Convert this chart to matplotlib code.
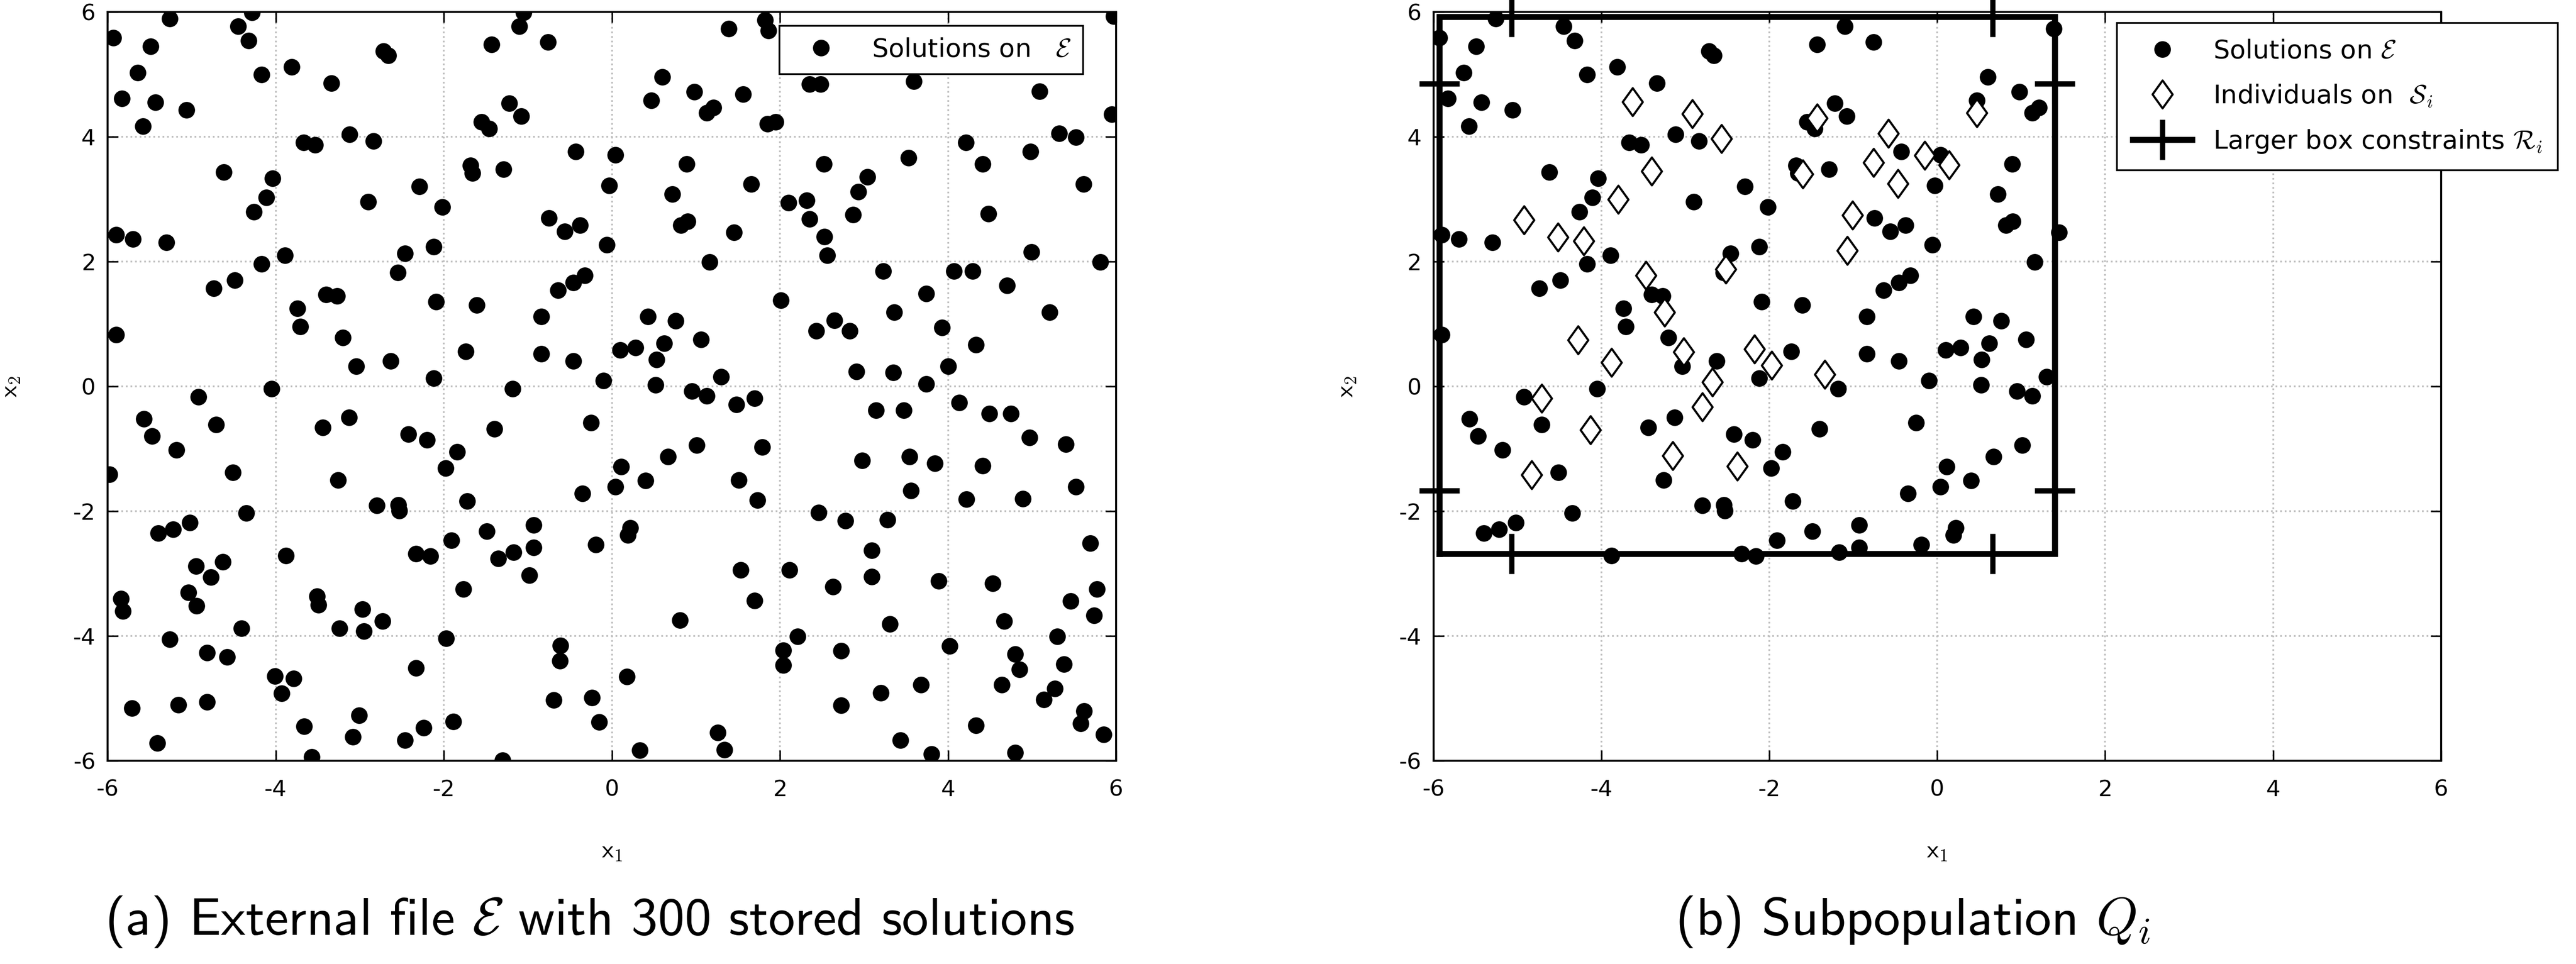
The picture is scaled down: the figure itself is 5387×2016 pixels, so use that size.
import numpy as np
import matplotlib
matplotlib.use("Agg")
import matplotlib.pyplot as plt
from matplotlib.lines import Line2D
from matplotlib.path import Path

plt.rcParams['font.family'] = ['DejaVu Sans']
plt.rcParams['mathtext.fontset'] = 'cm'
plt.rcParams['axes.unicode_minus'] = False

# --- solutions stored in the external file E (x1, x2) ---
sol_x1 = np.array([
    -5.26, -4.28, -5.93, -5.49, -4.45, -4.32, -1.05, -1.10, -1.43, -0.76,
    1.39, 1.82, 5.97, 2.35, 2.48, 3.59, 5.09, -5.64, -5.83, -5.43,
    -5.06, -5.58, -4.17, -3.81, -3.34, -1.22, -1.08, 0.60, 0.98, 0.47,
    1.56, 1.13, 1.21, 1.85, 1.95, -1.55, -1.46, 5.95, 5.32, 5.52,
    -3.12, -2.84, -3.67, -3.53, 4.21, 0.04, -0.43, 3.53, 2.52, 4.41,
    4.98, 0.89, -1.68, -1.66, -1.29, -4.62, -4.04, 5.61, 3.04, 1.66,
    -2.29, -0.03, 0.72, -4.11, 2.32, 2.93, -2.90, -4.26, -2.02, 2.10,
    4.48, -0.75, 2.35, -0.56, -0.38, 2.87, 0.82, 0.90, 1.45, 2.53,
    -5.90, -5.70, -5.30, -0.06, 4.99, 2.56, -3.89, -4.17, -2.46, -2.12,
    1.16, 5.81, 3.23, 4.07, 4.29, -2.55, -4.49, -4.74, 4.70, 3.74,
    -0.64, -0.46, -0.32, -3.40, -3.27, -2.09, -1.61, 2.01, 5.21, 3.36,
    -3.74, -0.84, 0.43, -3.71, 0.76, 2.43, 2.65, 2.83, 3.93, -5.90,
    -3.20, 1.06, 0.62, 4.33, -1.74, -0.84, 0.10, 0.28, -0.46, -2.63,
    0.53, -3.04, 4.00, 2.91, 3.35, 1.30, -2.12, -0.10, 0.52, 3.74,
    -4.05, -1.18, -4.92, 0.95, 1.13, 1.70, 4.13, 1.48, 3.14, 3.47,
    4.49, 4.75, -5.57, -4.71, -3.13, -0.25, -3.44, -1.40, -5.47, -2.42,
    -2.20, 4.97, 5.40, 1.01, -5.18, 1.79, -1.84, 3.54, 0.67, 2.98,
    3.84, -1.98, 4.41, -4.51, -5.98, 0.11, -3.26, 0.40, 1.51, 5.52,
    0.04, 3.56, -0.35, -1.72, 1.73, 4.22, 4.89, -4.35, 2.46, -2.80,
    -2.54, -2.53, -5.40, -5.22, -5.02, 2.78, 3.28, -1.91, -1.49, -0.93,
    0.22, 0.19, -2.16, -2.33, -0.19, 3.09, -1.35, -1.17, -0.93, 5.69,
    -4.95, -4.63, -0.98, 2.11, 1.53, 3.09, -4.77, -3.88, -5.04, -4.94,
    3.89, 4.53, -5.84, -5.82, -3.51, -3.49, -2.97, -2.73, -1.77, 1.70,
    5.77, 2.63, 5.46, 5.74, -2.95, -3.24, -4.41, 0.81, 4.67, 3.31,
    -1.97, 5.30, -5.26, -4.82, -4.58, -0.61, -0.62, 4.02, 2.21, 2.04,
    2.04, -4.01, -3.79, -3.93, -2.33, 0.18, 2.73, 4.80, 4.85, 5.38,
    4.64, 3.68, -5.71, -5.16, -4.82, -0.69, -0.24, 3.20, 5.27, 5.14,
    5.62, 5.58, -3.01, -1.89, -0.15, 2.73, 5.85, -2.24, -2.46, -3.66,
    -3.08, -5.41, 4.33, 1.26, 1.34, 3.43, 0.33, -3.57, -1.30, 3.80,
    4.80, -2.72, -2.66, 1.86,
])
sol_x2 = np.array([
    5.89, 5.99, 5.59, 5.45, 5.77, 5.54, 5.99, 5.77, 5.48, 5.52,
    5.73, 5.87, 5.93, 4.84, 4.84, 4.89, 4.73, 5.03, 4.61, 4.55,
    4.43, 4.17, 5.00, 5.12, 4.86, 4.54, 4.33, 4.96, 4.72, 4.58,
    4.68, 4.38, 4.47, 4.21, 4.24, 4.24, 4.13, 4.36, 4.05, 3.99,
    4.04, 3.93, 3.91, 3.87, 3.91, 3.71, 3.76, 3.66, 3.56, 3.56,
    3.76, 3.56, 3.54, 3.42, 3.48, 3.43, 3.33, 3.24, 3.36, 3.24,
    3.20, 3.22, 3.08, 3.03, 2.98, 3.12, 2.96, 2.80, 2.87, 2.94,
    2.77, 2.70, 2.68, 2.48, 2.58, 2.75, 2.58, 2.64, 2.47, 2.40,
    2.43, 2.36, 2.31, 2.27, 2.15, 2.10, 2.10, 1.96, 2.13, 2.24,
    1.99, 1.99, 1.85, 1.85, 1.85, 1.82, 1.70, 1.57, 1.62, 1.49,
    1.54, 1.66, 1.78, 1.47, 1.45, 1.36, 1.30, 1.38, 1.19, 1.19,
    1.25, 1.12, 1.12, 0.96, 1.05, 0.89, 1.06, 0.89, 0.94, 0.83,
    0.78, 0.75, 0.69, 0.67, 0.56, 0.52, 0.58, 0.62, 0.41, 0.41,
    0.43, 0.32, 0.32, 0.24, 0.22, 0.15, 0.13, 0.09, 0.02, 0.04,
    -0.04, -0.04, -0.17, -0.08, -0.15, -0.19, -0.26, -0.29, -0.38, -0.38,
    -0.44, -0.44, -0.52, -0.61, -0.50, -0.58, -0.66, -0.68, -0.80, -0.77,
    -0.86, -0.82, -0.93, -0.94, -1.02, -0.97, -1.05, -1.13, -1.13, -1.19,
    -1.23, -1.31, -1.27, -1.38, -1.41, -1.29, -1.50, -1.51, -1.50, -1.61,
    -1.61, -1.67, -1.72, -1.84, -1.82, -1.81, -1.80, -2.03, -2.02, -1.91,
    -1.90, -1.99, -2.35, -2.29, -2.18, -2.15, -2.14, -2.47, -2.32, -2.22,
    -2.27, -2.38, -2.72, -2.68, -2.54, -2.63, -2.76, -2.66, -2.58, -2.51,
    -2.88, -2.81, -3.03, -2.94, -2.94, -3.05, -3.06, -2.71, -3.30, -3.52,
    -3.12, -3.16, -3.40, -3.60, -3.36, -3.50, -3.57, -3.76, -3.25, -3.43,
    -3.25, -3.21, -3.44, -3.67, -3.92, -3.88, -3.88, -3.75, -3.76, -3.81,
    -4.04, -4.01, -4.05, -4.27, -4.34, -4.15, -4.40, -4.16, -4.01, -4.23,
    -4.47, -4.64, -4.68, -4.92, -4.51, -4.65, -4.24, -4.29, -4.54, -4.45,
    -4.78, -4.78, -5.16, -5.10, -5.06, -5.03, -4.99, -4.91, -4.84, -5.02,
    -5.20, -5.40, -5.27, -5.37, -5.38, -5.11, -5.58, -5.47, -5.67, -5.45,
    -5.62, -5.72, -5.43, -5.55, -5.82, -5.67, -5.83, -5.94, -5.99, -5.89,
    -5.87, 5.37, 5.30, 5.70,
])

# --- individuals of the subpopulation on S_i ---
ind_x1 = [-3.63, -2.92, -2.57, -3.40, -3.80, -4.92, -4.52, -4.21, -3.47, -3.25,
          -4.28, -3.88, -3.02, -2.68, -2.80, -2.18, -1.97, -1.34, -4.71, -4.13,
          -3.15, -2.38, -4.83, -2.52, -1.60, -1.43, -0.76, -0.58, -0.47, -0.15,
          0.14, -1.01, -1.07, 0.47]
ind_x2 = [4.56, 4.37, 3.97, 3.45, 3.00, 2.67, 2.39, 2.33, 1.78, 1.19,
          0.74, 0.38, 0.55, 0.07, -0.33, 0.60, 0.34, 0.19, -0.19, -0.70,
          -1.11, -1.28, -1.42, 1.88, 3.40, 4.30, 3.59, 4.05, 3.25, 3.70,
          3.55, 2.74, 2.18, 4.38]

# --- larger box constraints R_i ---
box_x1 = (-5.93, 1.40)
box_x2 = (-2.68, 5.92)
cross_x1 = [-5.07, 0.66]   # crosses on top / bottom edge
cross_x2 = [-1.67, 4.85]   # crosses on left / right edge

ticks = [-6, -4, -2, 0, 2, 4, 6]

diamond = Path([(0, 1), (0.72, 0), (0, -1), (-0.72, 0), (0, 1)],
               [Path.MOVETO, Path.LINETO, Path.LINETO, Path.LINETO, Path.CLOSEPOLY])

DOT = dict(ls='none', marker='o', ms=11.5, color='black')
BOX = dict(color='black', lw=4.5)


def style_axes(ax):
    ax.set_xlim(-6, 6)
    ax.set_ylim(-6, 6)
    ax.set_xticks(ticks)
    ax.set_yticks(ticks)
    ax.tick_params(direction='in', length=8, width=1.2, top=True, right=True,
                   labelsize=17)
    ax.tick_params(axis='x', pad=14)
    ax.tick_params(axis='y', pad=9)
    ax.grid(True, ls=':', color='#bdbdbd', lw=1.3)
    ax.set_axisbelow(True)
    for s in ax.spines.values():
        s.set_linewidth(1.5)
    ax.set_xlabel(r'$\mathsf{x}_{\mathsf{1}}$', fontsize=19)
    ax.set_ylabel(r'$\mathsf{x}_{\mathsf{2}}$', fontsize=19)


fig = plt.figure(figsize=(26.935, 10.08), dpi=200)
ax_a = fig.add_axes([0.0418, 0.2108, 0.3915, 0.7768])
ax_b = fig.add_axes([0.5565, 0.2108, 0.3911, 0.7768])

# (a) external file
style_axes(ax_a)
ax_a.plot(sol_x1, sol_x2, label=r'Solutions on   $\mathcal{E}$', **DOT)
ax_a.xaxis.set_label_coords(0.5, -0.103)
ax_a.yaxis.set_label_coords(-0.085, 0.5)
leg = ax_a.legend(loc='upper right', bbox_to_anchor=(0.967, 0.9815),
                  borderaxespad=0, fontsize=19.5, fancybox=False, framealpha=1,
                  edgecolor='black', handlelength=2.3, borderpad=0.45)
leg.get_frame().set_linewidth(1.3)

# (b) subpopulation
style_axes(ax_b)
tol = 0.05
inside = ((sol_x1 >= box_x1[0] - tol) & (sol_x1 <= box_x1[1] + tol) &
          (sol_x2 >= box_x2[0] - tol) & (sol_x2 <= box_x2[1] + tol))
ax_b.plot(sol_x1[inside], sol_x2[inside], **DOT)
ax_b.plot(ind_x1, ind_x2, ls='none', marker=diamond, ms=21, mfc='white',
          mec='black', mew=1.6)

bx = [box_x1[0], box_x1[1], box_x1[1], box_x1[0], box_x1[0]]
by = [box_x2[0], box_x2[0], box_x2[1], box_x2[1], box_x2[0]]
ax_b.plot(bx, by, solid_joinstyle='miter', clip_on=False, zorder=4, **BOX)
cx = cross_x1 + cross_x1 + [box_x1[0]] * 2 + [box_x1[1]] * 2
cy = [box_x2[1]] * 2 + [box_x2[0]] * 2 + cross_x2 + cross_x2
ax_b.plot(cx, cy, ls='none', marker='+', ms=30, mew=4, color='black',
          clip_on=False, zorder=4)

ax_b.xaxis.set_label_coords(0.5, -0.103)
ax_b.yaxis.set_label_coords(-0.075, 0.5)

handles = [
    Line2D([], [], **DOT),
    Line2D([], [], ls='none', marker=diamond, ms=21, mfc='white', mec='black', mew=1.6),
    Line2D([], [], marker='+', ms=30, mew=4, **BOX),
]
labels = [r'Solutions on $\mathcal{E}$', r'Individuals on  $\mathcal{S}_i$',
          r'Larger box constraints $\mathcal{R}_i$']
leg_b = ax_b.legend(handles, labels, loc='upper right', bbox_to_anchor=(1.116, 0.985),
                    borderaxespad=0, fontsize=19.5, fancybox=False, framealpha=1,
                    edgecolor='black', handlelength=2.3, borderpad=0.6,
                    labelspacing=0.75)
leg_b.get_frame().set_linewidth(1.3)

# captions
fig.text(0.2289, 0.044, r'(a) External file $\mathcal{E}$ with 300 stored solutions',
         ha='center', va='center', fontsize=40, family='cmss10')
fig.text(0.7424, 0.044, r'(b) Subpopulation $Q_i$',
         ha='center', va='center', fontsize=40, family='cmss10')

fig.savefig('out.png', dpi=200)
